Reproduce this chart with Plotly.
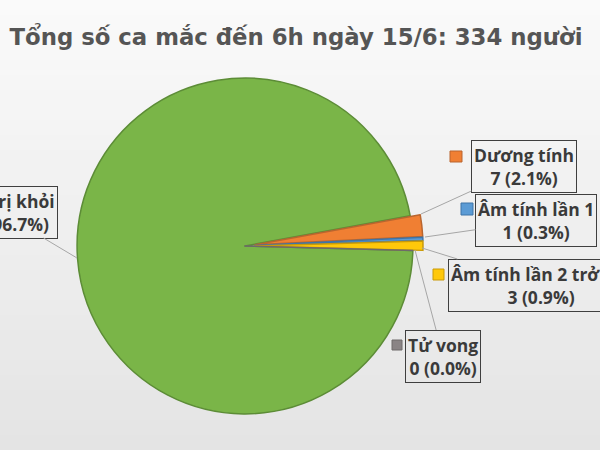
import plotly.graph_objects as go

# ---- data ----
title_text = "Tổng số ca mắc đến 6h ngày 15/6: 334 người"
labels = ["Điều trị khỏi", "Dương tính", "Âm tính lần 1", "Âm tính lần 2 trở lên", "Tử vong"]
values = [323, 7, 1, 3, 0]

# ---- style ----
colors = ["#7AB548", "#F07F33", "#5B9BD5", "#FFC80A", "#8A8485"]
edge_colors = ["#5C8C36", "#B9652E", "#3F74A8", "#C99A08", "#6E6A6A"]
pulls = [0, 0.06, 0.06, 0.06, 0]
TITLE_FONT = "DejaVu Sans, Verdana, sans-serif"
LABEL_FONT = "Open Sans, Noto Sans, sans-serif"

W, H = 600, 450
def fx(px):
    return px / W
def fy(py):
    return 1 - py / H

total = sum(values)
texts = [f"<b>{lab}</b><br><b>{v} ({v / total * 100:.1f}%)</b>" for lab, v in zip(labels, values)]

# label layout: (tip_x, tip_y, box_cx, box_cy) in pixels
label_pos = [
    (77, 258, -12, 212),
    (421, 214, 524, 167),
    (425, 237, 536, 221),
    (422, 248, 541, 285),
    (415, 250, 443, 356),
]
# legend-key squares (x0, y0, x1, y1) in pixels
key_pos = [
    None,
    (450, 151, 462, 162),
    (461, 203, 473, 215),
    (433, 269, 444, 280),
    (392, 340, 402, 350),
]

fig = go.Figure()
fig.add_trace(go.Pie(
    labels=labels,
    values=values,
    sort=False,
    direction="clockwise",
    rotation=91.5,
    pull=pulls,
    textinfo="none",
    hoverinfo="label+value+percent",
    marker=dict(colors=colors, line=dict(color=edge_colors, width=1.5)),
    domain=dict(x=[fx(245 - 178), fx(245 + 178)], y=[fy(246 + 178), fy(246 - 178)]),
    showlegend=False,
))

annotations = []
for t, (tx, ty, bx, by) in zip(texts, label_pos):
    annotations.append(dict(
        x=fx(tx), y=fy(ty), xref="paper", yref="paper",
        ax=bx - tx, ay=by - ty, axref="pixel", ayref="pixel",
        text=t, showarrow=True, arrowhead=0, arrowwidth=1, arrowcolor="#A6A6A6",
        standoff=0, startstandoff=0,
        font=dict(family=LABEL_FONT, size=17.5, color="#3A3A3A"),
        bordercolor="#3F3F3F", borderwidth=1, borderpad=2, bgcolor="rgba(0,0,0,0)",
        align="center",
    ))

shapes = []
# background vertical gradient
n_bands = 30
for i in range(n_bands):
    f = i / (n_bands - 1)
    c = int(round(250 - f * (250 - 228)))
    shapes.append(dict(type="rect", xref="paper", yref="paper",
                       x0=0, x1=1, y0=1 - (i + 1) / n_bands, y1=1 - i / n_bands,
                       fillcolor=f"rgb({c},{c},{c})", line=dict(width=0), layer="below"))
for k, col, ec in zip(key_pos, colors, edge_colors):
    if k is None:
        continue
    x0, y0, x1, y1 = k
    shapes.append(dict(type="rect", xref="paper", yref="paper",
                       x0=fx(x0), x1=fx(x1), y0=fy(y1), y1=fy(y0),
                       fillcolor=col, line=dict(color=ec, width=1)))

fig.update_layout(
    width=W, height=H,
    margin=dict(l=0, r=0, t=0, b=0),
    paper_bgcolor="#EFEFEF",
    plot_bgcolor="#EFEFEF",
    title=dict(text=f"<b>{title_text}</b>", x=fx(296), y=fy(37), xref="paper", yref="paper",
               xanchor="center", yanchor="middle",
               font=dict(family=TITLE_FONT, size=22.8, color="#555555")),
    annotations=annotations,
    shapes=shapes,
)

fig.write_html("out.html", config={"displayModeBar": False},
               post_script="document.body.style.margin='0';document.body.style.overflow='hidden';")
